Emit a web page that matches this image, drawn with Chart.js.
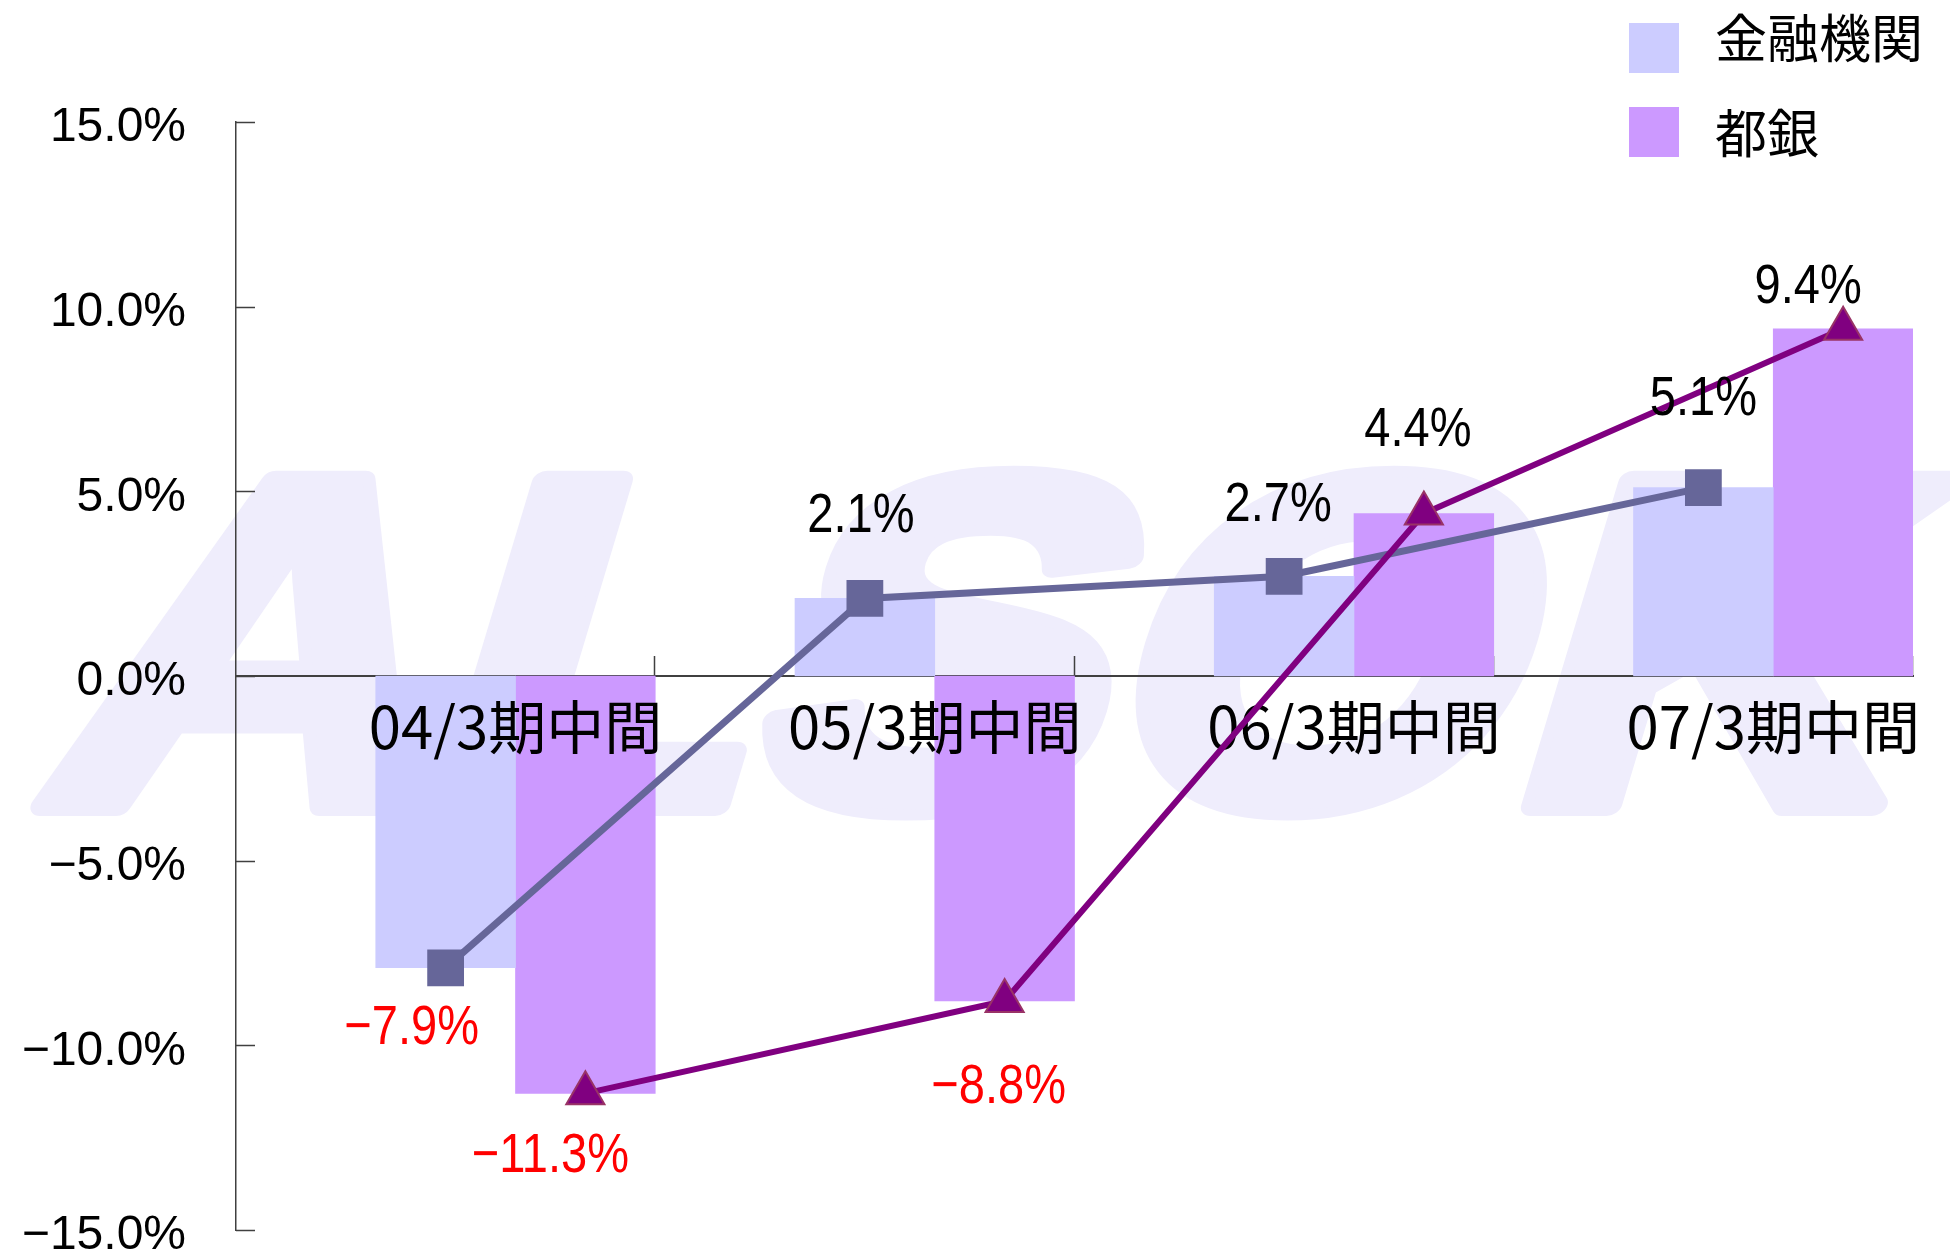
<!DOCTYPE html>
<html>
<head>
<meta charset="utf-8">
<script src="https://cdn.jsdelivr.net/npm/chart.js@4.4.1/dist/chart.umd.min.js"></script>
<style>
  html, body { margin: 0; padding: 0; background: #fff; }
  canvas { display: block; }
</style>
</head>
<body>
<canvas id="growthChart" width="1950" height="1258"></canvas>
<script>
const categories = ['04/3期中間', '05/3期中間', '06/3期中間', '07/3期中間'];
const seriesNames = ['金融機関', '都銀'];
const financeValues = [-7.9, 2.1, 2.7, 5.1];
const cityBankValues = [-11.3, -8.8, 4.4, 9.4];
const yTicks = [-15, -10, -5, 0, 5, 10, 15];

// one unit per category on the x axis, the two bars fill its right two thirds
const financePos = i => i + 0.5;
const cityBankPos = i => i + 5 / 6;
const labelPos = i => i + 2 / 3;

const fmt = v => (v < 0 ? '\u2212' : '') + Math.abs(v).toFixed(1) + '%';

const watermark = {
    id: 'watermark',
    beforeDraw(chart) {
        const ctx = chart.ctx;
        ctx.save();
        ctx.fillStyle = '#fff';
        ctx.fillRect(0, 0, chart.width, chart.height);
        ctx.font = 'bold 470px "Liberation Sans", Arial, sans-serif';
        const w = ctx.measureText('ALSOK').width;
        ctx.setTransform(1850 / w, 0, -0.3, 1, 30, 805);
        ctx.fillStyle = '#efedfc';
        ctx.strokeStyle = '#efedfc';
        ctx.lineWidth = 22;
        ctx.lineJoin = 'round';
        ctx.textBaseline = 'alphabetic';
        ctx.strokeText('ALSOK', 0, 0);
        ctx.fillText('ALSOK', 0, 0);
        ctx.restore();
    }
};

// tick marks point into the plot, not out of it
const innerTicks = {
    id: 'innerTicks',
    beforeDatasetsDraw(chart) {
        const { ctx, scales: { x, y } } = chart;
        const zero = y.getPixelForValue(0);
        ctx.save();
        ctx.strokeStyle = '#404040';
        ctx.lineWidth = 1.5;
        ctx.beginPath();
        yTicks.forEach(v => {
            const py = Math.round(y.getPixelForValue(v)) + 0.5;
            ctx.moveTo(x.left, py);
            ctx.lineTo(x.left + 19, py);
        });
        categories.forEach((c, i) => {
            const px = Math.round(x.getPixelForValue(i + 1)) - 0.5;
            ctx.moveTo(px, zero);
            ctx.lineTo(px, zero - 20);
        });
        ctx.stroke();
        ctx.restore();
    }
};

// category names sit above the bars but under the lines
const categoryLabels = {
    id: 'categoryLabels',
    beforeDatasetDraw(chart, args) {
        if (args.index !== 1) return;
        const x = chart.scales.x;
        x.options.ticks.display = true;
        x.drawLabels(chart.chartArea);
        x.options.ticks.display = false;
    }
};

const pointLabels = {
    id: 'pointLabels',
    afterDatasetsDraw(chart, args, opts) {
        const ctx = chart.ctx;
        ctx.save();
        ctx.font = '56px "Liberation Sans", Arial, sans-serif';
        ctx.textAlign = 'center';
        ctx.textBaseline = 'middle';
        chart.data.datasets.forEach((ds, di) => {
            if (ds.type !== 'line') return;
            const nudge = opts.nudge[ds.label];
            chart.getDatasetMeta(di).data.forEach((pt, i) => {
                const v = ds.data[i].y;
                ctx.save();
                ctx.translate(pt.x + nudge[i][0], pt.y + nudge[i][1]);
                ctx.scale(0.84, 1);
                ctx.fillStyle = v < 0 ? '#ff0000' : '#000000';
                ctx.fillText(fmt(v), 0, 0);
                ctx.restore();
            });
        });
        ctx.restore();
    }
};

const sideLegend = {
    id: 'sideLegend',
    afterDraw(chart) {
        const ctx = chart.ctx;
        const bars = chart.data.datasets.filter(d => d.type === 'bar');
        const boxTops = [23, 107];
        const textMids = [38, 133];
        ctx.save();
        ctx.font = '52px "Noto Sans CJK JP", sans-serif';
        ctx.textBaseline = 'middle';
        bars.forEach((d, i) => {
            ctx.fillStyle = d.backgroundColor;
            ctx.fillRect(1629, boxTops[i], 50, 50);
            ctx.fillStyle = '#000';
            ctx.fillText(d.label, 1715, textMids[i]);
        });
        ctx.restore();
    }
};

new Chart(document.getElementById('growthChart'), {
    type: 'bar',
    data: {
        datasets: [
            {
                type: 'line',
                label: seriesNames[1],
                data: cityBankValues.map((v, i) => ({ x: cityBankPos(i), y: v })),
                borderColor: '#800080',
                borderWidth: 6,
                tension: 0,
                pointStyle: 'triangle',
                pointRadius: 22,
                pointBackgroundColor: '#800080',
                pointBorderColor: '#993366',
                pointBorderWidth: 2,
                order: 1
            },
            {
                type: 'line',
                label: seriesNames[0],
                data: financeValues.map((v, i) => ({ x: financePos(i), y: v })),
                borderColor: '#666699',
                borderWidth: 7,
                tension: 0,
                pointStyle: 'rect',
                pointRadius: 26,
                pointBackgroundColor: '#666699',
                pointBorderColor: '#666699',
                pointBorderWidth: 0,
                order: 2
            },
            {
                type: 'bar',
                label: seriesNames[0],
                data: financeValues.map((v, i) => ({ x: financePos(i), y: v })),
                backgroundColor: '#ccccff',
                grouped: false,
                barPercentage: 1,
                categoryPercentage: 1,
                order: 3
            },
            {
                type: 'bar',
                label: seriesNames[1],
                data: cityBankValues.map((v, i) => ({ x: cityBankPos(i), y: v })),
                backgroundColor: '#cc99ff',
                grouped: false,
                barPercentage: 1,
                categoryPercentage: 1,
                order: 3
            }
        ]
    },
    options: {
        responsive: false,
        animation: false,
        events: [],
        layout: { padding: { top: 122, right: 37, bottom: 28, left: 0 } },
        scales: {
            x: {
                type: 'linear',
                position: { y: 0 },
                offset: false,
                min: 0,
                max: categories.length,
                afterBuildTicks: s => { s.ticks = categories.map((c, i) => ({ value: labelPos(i) })); },
                afterFit: s => { s.height = 0; s.paddingLeft = 0; s.paddingRight = 0; },
                grid: { display: false, offset: false },
                border: { display: true, color: '#404040', width: 2 },
                ticks: {
                    display: false,
                    autoSkip: false,
                    maxRotation: 0,
                    padding: 8,
                    color: '#000',
                    font: { family: '"Noto Sans CJK JP", sans-serif', size: 58 },
                    callback: v => categories[Math.floor(v)]
                }
            },
            y: {
                type: 'linear',
                position: 'left',
                min: yTicks[0],
                max: yTicks[yTicks.length - 1],
                afterBuildTicks: s => { s.ticks = yTicks.map(v => ({ value: v })); },
                afterFit: s => { s.width = 236; s.paddingTop = 0; s.paddingBottom = 0; },
                grid: { display: false },
                border: { display: true, color: '#404040', width: 1.5 },
                ticks: {
                    padding: 42,
                    labelOffset: 6,
                    color: '#000',
                    font: { family: '"Liberation Sans", Arial, sans-serif', size: 48 },
                    callback: v => fmt(v)
                }
            }
        },
        plugins: {
            legend: { display: false },
            tooltip: { enabled: false },
            pointLabels: {
                nudge: {
                    '金融機関': [[-34, 61], [-4, -82], [-6, -71], [0, -88]],
                    '都銀': [[-35, 63], [-6, 87], [-6, -83], [-35, -41]]
                }
            }
        }
    },
    plugins: [watermark, innerTicks, categoryLabels, pointLabels, sideLegend]
});
</script>
</body>
</html>
